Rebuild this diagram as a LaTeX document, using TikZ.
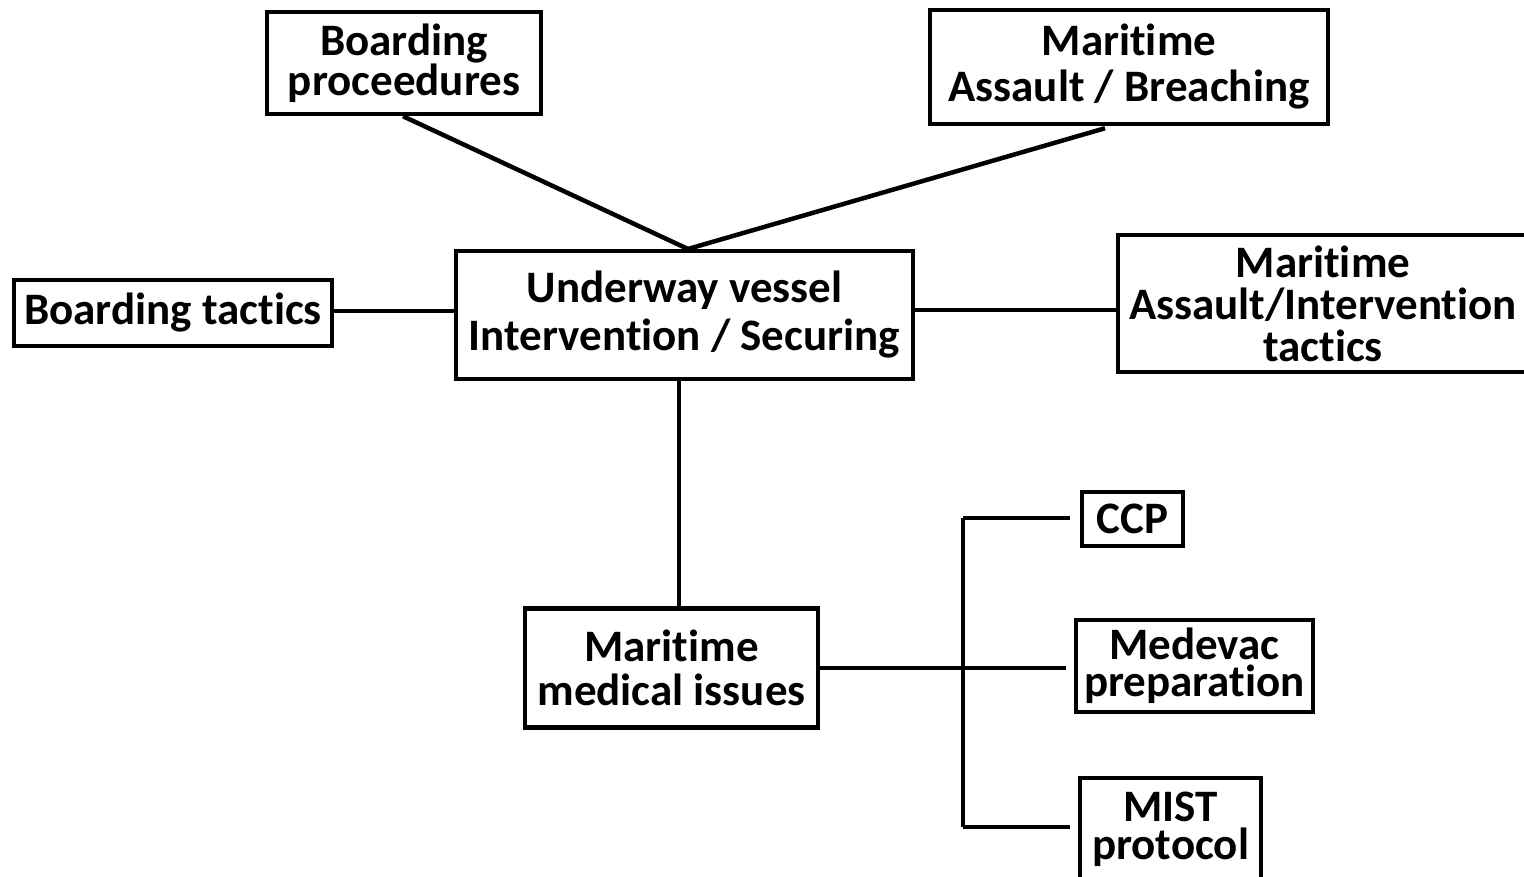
\documentclass[tikz,border=0pt]{standalone}
\usepackage{fontspec}
\setmainfont{Carlito}[Ligatures={NoCommon}]
\usetikzlibrary{calc}
\begin{document}
\begin{tikzpicture}[x=1pt,y=-1pt,
  box/.style={draw,line width=4.5pt,inner sep=0pt,align=center,
    font=\bfseries\fontsize{45}{46}\selectfont},
  link/.style={line width=4.5pt}]
\useasboundingbox (0,0) rectangle (1524,877);
\node[box,minimum width=274,minimum height=102,font=\bfseries\fontsize{45}{40}\selectfont] (bp) at (404,63) {Boarding\\proceedures};
\node[box,minimum width=398,minimum height=114,font=\bfseries\fontsize{45}{46}\selectfont] (mab) at (1129,67) {Maritime\\Assault / Breaching};
\node[box,minimum width=318,minimum height=66] (bt) at (173,313) {Boarding tactics};
\node[box,minimum width=457,minimum height=128,font=\bfseries\fontsize{45}{48}\selectfont] (uv) at (684.5,315) {Underway vessel\\Intervention / Securing};
\node[box,minimum width=410,minimum height=137,font=\bfseries\fontsize{45}{42}\selectfont] (mai) at (1323,303.5) {Maritime\\Assault/Intervention\\tactics};
\node[box,minimum width=293,minimum height=119,font=\bfseries\fontsize{45}{44}\selectfont] (mmi) at (671.5,668) {Maritime\\medical issues};
\node[box,minimum width=101,minimum height=54] (ccp) at (1132.5,519) {CCP};
\node[box,minimum width=237,minimum height=92,font=\bfseries\fontsize{45}{37}\selectfont] (med) at (1194.5,666) {Medevac\\preparation};
\node[box,minimum width=181,minimum height=102,font=\bfseries\fontsize{45}{38}\selectfont] (mist) at (1170.5,829) {MIST\\protocol};
\coordinate (hub) at (688,249);
\coordinate (bpend) at ($(bp.south)+(-1,0)$);
\coordinate (mabend) at ($(mab.south)+(-24,2)$);
\coordinate (jtop) at (963,518);
\coordinate (jbot) at (963,827);
\draw[link] (bpend) -- (hub);
\draw[link] (mabend) -- (hub);
\draw[link] (bt.east |- 0,311) -- (uv.west |- 0,311);
\draw[link] (uv.east |- 0,310) -- (mai.west |- 0,310);
\draw[link] (uv.south -| 679,0) -- (mmi.north -| 679,0);
\draw[link] (mmi.east |- 0,668) -- ($(med.west |- 0,668)+(-8,0)$);
\draw[link] (jtop) -- (jbot);
\draw[link] (jtop) -- ($(ccp.west |- jtop)+(-10,0)$);
\draw[link] (jbot) -- ($(mist.west |- jbot)+(-8,0)$);
\end{tikzpicture}
\end{document}
